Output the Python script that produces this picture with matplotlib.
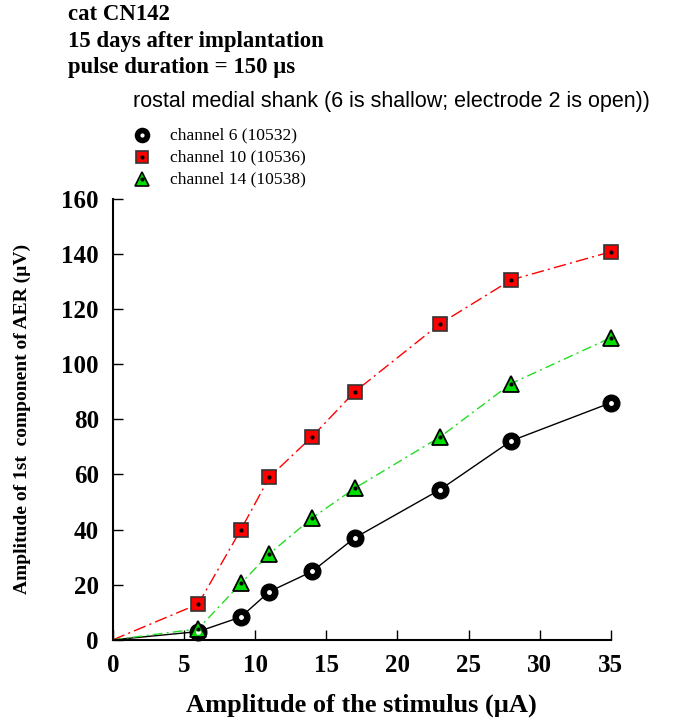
import matplotlib.pyplot as plt
import numpy as np

# stimulus amplitude (uA); 0 is the origin the curves start from
stim = [0, 6, 9, 11, 14, 17, 23, 28, 35]
ch6 = [0, 3, 8.3, 17.5, 24.8, 37, 54.5, 72.2, 86]
ch10 = [0, 13, 40, 59, 73.7, 90, 114.7, 130.6, 140.8]
ch14 = [0, 4, 20.5, 31.2, 44.2, 55, 73.6, 93, 109.6]

serif = 'Liberation Serif'

fig = plt.figure(figsize=(6.84, 7.23), dpi=100)
ax = fig.add_axes([0.165, 0.115, 0.728, 0.61])

marks = range(1, len(stim))

# channel 6 - black circles, white centre dot
ax.plot(stim, ch6, color='black', lw=1, zorder=2)
ax.plot(stim, ch6, ls='none', marker='o', ms=12, mfc='black', mec='black',
        markevery=marks, zorder=4, clip_on=False)
ax.plot(stim, ch6, ls='none', marker='o', ms=2.5, mfc='white', mec='white',
        markevery=marks, zorder=5, clip_on=False)

# channel 10 - red squares
ax.plot(stim, ch10, color='red', lw=1, dashes=(9, 3, 1.5, 3), zorder=2)
ax.plot(stim, ch10, ls='none', marker='s', ms=10, mfc='red', mec='#333333',
        mew=1.2, markevery=marks, zorder=4, clip_on=False)
ax.plot(stim, ch10, ls='none', marker='o', ms=2, mfc='black', mec='black',
        markevery=marks, zorder=5, clip_on=False)

# channel 14 - green triangles
ax.plot(stim, ch14, color='#22dd22', lw=1, dashes=(7, 3, 1.5, 3), zorder=2)
ax.plot(stim, ch14, ls='none', marker='^', ms=12, mfc='#00dd00', mec='black',
        mew=1.3, markevery=marks, zorder=4, clip_on=False)
ax.plot(stim, ch14, ls='none', marker='o', ms=2, mfc='black', mec='black',
        markevery=marks, zorder=5, clip_on=False)

ax.set_xlim(0, 35)
ax.set_ylim(0, 160)
ax.set_xticks(np.arange(0, 36, 5))
ax.set_yticks(np.arange(0, 161, 20))
ax.spines['top'].set_visible(False)
ax.spines['right'].set_visible(False)
ax.spines['left'].set_linewidth(1.5)
ax.spines['bottom'].set_linewidth(1.5)
ax.tick_params(direction='in', length=7, width=1, pad=10)
for lab in ax.get_xticklabels() + ax.get_yticklabels():
    lab.set_fontfamily(serif)
    lab.set_fontweight('bold')
    lab.set_fontsize(18)

ax.set_xlabel('Amplitude of the stimulus (\u00b5A)', fontfamily=serif,
              fontweight='bold', fontsize=19, labelpad=12)
ax.set_ylabel('Amplitude of 1st  component of AER (\u00b5V)', fontfamily=serif,
              fontweight='bold', fontsize=14, labelpad=22)

# header text
fig.text(68/684, 1 - 15/723, 'cat CN142', fontfamily=serif, fontweight='bold',
         fontsize=16.4, va='center')
fig.text(68/684, 1 - 42/723, '15 days after implantation', fontfamily=serif,
         fontweight='bold', fontsize=16.4, va='center')
fig.text(68/684, 1 - 68/723, 'pulse duration = 150 \u00b5s', fontfamily=serif,
         fontweight='bold', fontsize=16.4, va='center')
fig.text(133/684, 1 - 102/723,
         'rostal medial shank (6 is shallow; electrode 2 is open))',
         fontfamily='Liberation Sans', fontsize=15.5, va='center')

# legend drawn by hand
leg = [('channel 6 (10532)', 'o', 'black', 'white', 1 - 135/723),
       ('channel 10 (10536)', 's', 'red', 'black', 1 - 157/723),
       ('channel 14 (10538)', '^', '#00dd00', 'black', 1 - 179/723)]
for name, m, c, dot, yy in leg:
    ec = 'black' if m != 's' else '#333333'
    fig.lines.append(plt.Line2D([142/684], [yy], marker=m, ms=10 if m != 's' else 9,
                                mfc=c, mec=ec, mew=1.2, ls='none',
                                transform=fig.transFigure))
    fig.lines.append(plt.Line2D([142/684], [yy], marker='o', ms=2, mfc=dot,
                                mec=dot, ls='none', transform=fig.transFigure))
    fig.text(170/684, yy, name, fontfamily=serif, fontsize=12.6, va='center')

plt.savefig('out.png', dpi=100)
